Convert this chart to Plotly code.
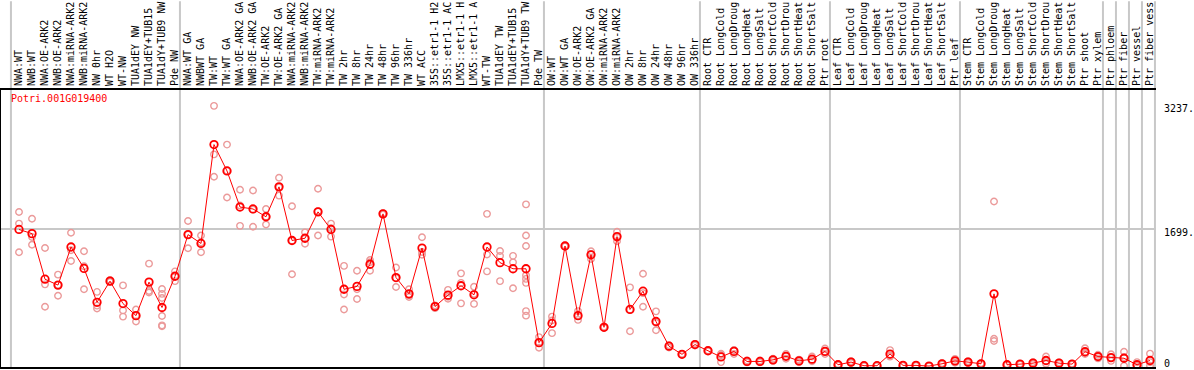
import plotly.graph_objects as go

labels = [
    "NWA:WT", "NWB:WT", "NWA:OE-ARK2", "NWB:OE-ARK2", "NWA:miRNA-ARK2", "NWB:miRNA-ARK2",
    "NW 0hr", "WT H2O", "WT-NW", "TUA1dEY NW", "TUA1dEY+TUB15", "TUA1dY+TUB9 NW", "Pde NW",
    "NWA:WT GA", "NWBWT GA", "TW:WT", "TW:WT GA", "NWA:OE-ARK2 GA", "NWB:OE-ARK2 GA",
    "TW:OE-ARK2", "TW:OE-ARK2 GA", "NWA:miRNA-ARK2", "NWB:miRNA-ARK2", "TW:miRNA-ARK2",
    "TW:miRNA-ARK2", "TW 2hr", "TW 8hr", "TW 24hr", "TW 48hr", "TW 96hr", "TW 336hr",
    "WT ACC", "35S::etr1-1 H2", "35S::etr1-1 AC", "LMX5::etr1-1 H", "LMX5::etr1-1 A",
    "WT-TW", "TUA1dEY TW", "TUA1dEY+TUB15", "TUA1dY+TUB9 TW", "Pde TW",
    "OW:WT", "OW:WT GA", "OW:OE-ARK2", "OW:OE-ARK2 GA", "OW:miRNA-ARK2", "OW:miRNA-ARK2",
    "OW 2hr", "OW 8hr", "OW 24hr", "OW 48hr", "OW 96hr", "OW 336hr",
    "Root CTR", "Root LongCold", "Root LongDroug", "Root LongHeat", "Root LongSalt",
    "Root ShortCold", "Root ShortDrou", "Root ShortHeat", "Root ShortSalt", "Ptr root",
    "Leaf CTR", "Leaf LongCold", "Leaf LongDroug", "Leaf LongHeat", "Leaf LongSalt",
    "Leaf ShortCold", "Leaf ShortDrou", "Leaf ShortHeat", "Leaf ShortSalt", "Ptr leaf",
    "Stem CTR", "Stem LongCold", "Stem LongDroug", "Stem LongHeat", "Stem LongSalt",
    "Stem ShortCold", "Stem ShortDrou", "Stem ShortHeat", "Stem ShortSalt", "Ptr shoot",
    "Ptr xylem", "Ptr phloem", "Ptr fiber", "Ptr vessel", "Ptr fiber vess",
]

means = [
    1699, 1647, 1080, 1007, 1481, 1214, 793, 1056, 777, 627,
    1044, 728, 1117, 1635, 1525, 2755, 2427, 1978, 1954, 1857,
    2229, 1562, 1590, 1918, 1699, 955, 991, 1266, 1893, 1101,
    898, 1468, 740, 882, 999, 886, 1481, 1286, 1210, 1210,
    291, 530, 1493, 627, 1384, 482, 1610, 704, 931, 554,
    247, 146, 267, 190, 113, 182, 57, 57, 77, 121,
    64, 85, 182, 16, 49, 4, 4, 149, 8, 8,
    0, 28, 64, 49, 28, 898, 16, 24, 36, 69,
    36, 24, 178, 118, 105, 97, 16, 69,
]

replicates = [
    [1917, 1772, 1416], [1833, 1606, 1509], [1468, 1016, 737], [1137, 1010, 874],
    [1659, 1440, 1307], [1428, 1242, 955], [922, 752, 716], [1070, 1050, 1048],
    [1003, 692, 615], [704, 627, 554], [1274, 934, 914], [959, 898, 846, 623, 506, 494],
    [1177, 1118, 1056], [1805, 1635, 1465], [1623, 1536, 1416], [3237, 2633, 2354],
    [2755, 2430, 2096], [2193, 1997, 1744], [2184, 1946, 1732], [1954, 1857, 1760],
    [2342, 2225, 2120], [1987, 1558, 1141], [1663, 1586, 1521], [2205, 1926, 1623],
    [1772, 1715, 1610], [1246, 890, 704], [1186, 955, 834], [1319, 1293, 1186],
    [1900, 1895, 1885], [1226, 1094, 983], [955, 881, 858], [1602, 1418, 1384],
    [755, 745, 720], [947, 862, 837], [1153, 1035, 780], [987, 898, 773],
    [1893, 1387, 1177], [1432, 1370, 1056], [1371, 1290, 967],
    [2011, 1623, 1493, 1129, 1084, 1035, 683, 627],
    [360, 287, 227], [615, 566, 409], [1500, 1490, 1489], [683, 624, 574],
    [1428, 1393, 1331], [490, 481, 475], [1671, 1606, 1553], [979, 700, 433],
    [1149, 907, 737], [680, 537, 445], [260, 251, 230], [150, 148, 140],
    [275, 271, 255], [195, 190, 185], [153, 137, 49], [200, 196, 150],
    [70, 55, 46], [68, 56, 47], [90, 77, 64], [150, 121, 90],
    [80, 64, 48], [118, 77, 60], [218, 179, 149], [22, 16, 10],
    [60, 49, 38], [8, 4, 0], [8, 4, 0], [198, 132, 117],
    [12, 8, 4], [12, 8, 4], [2, 0, 0], [36, 28, 20],
    [89, 63, 40], [60, 49, 38], [36, 28, 20], [2047, 340, 312],
    [22, 16, 10], [30, 24, 18], [48, 36, 24], [118, 61, 28],
    [44, 36, 28], [30, 24, 18], [222, 162, 150], [140, 118, 95],
    [146, 105, 64], [178, 109, 4], [49, 0, 0], [154, 49, 4],
]

group_starts = [0, 13, 41, 53, 63, 73, 84, 85, 86, 87, 88]
y_tick_labels = ["3237.", "1699.", "0"]
y_tick_values = [3237, 1699, 0]
gene = "Potri.001G019400"

xs = list(range(len(labels)))
rx, ry = [], []
for i, reps in enumerate(replicates):
    for v in reps:
        rx.append(i)
        ry.append(v)

MONO = "DejaVu Sans Mono"

fig = go.Figure()
fig.add_trace(go.Scatter(
    x=rx, y=ry, mode="markers",
    marker=dict(symbol="circle-open", size=6.5, color="#eb9a9a",
                line=dict(width=1.4, color="#eb9a9a")),
    showlegend=False, hoverinfo="y",
))
fig.add_trace(go.Scatter(
    x=xs, y=means, mode="lines+markers",
    line=dict(color="red", width=1),
    marker=dict(symbol="circle-open", size=7.5, color="red",
                line=dict(width=1.8, color="red")),
    showlegend=False, hoverinfo="y",
))

shapes = []
for b in group_starts:
    shapes.append(dict(type="line", xref="x", yref="paper",
                       x0=b - 0.62, x1=b - 0.62, y0=0, y1=1.32,
                       line=dict(color="#c8c8c8", width=2), layer="below"))

annotations = [dict(text=gene, xref="paper", yref="paper", x=0.0069, y=0.985,
                    xanchor="left", yanchor="top", showarrow=False, yshift=3,
                    font=dict(family=MONO, size=10, color="red"))]
label_shift = {3237: 5, 1699: 4, 0: -5}
for lab, v in zip(y_tick_labels, y_tick_values):
    annotations.append(dict(text=lab, xref="paper", yref="y", x=1.0055, y=v,
                            xanchor="left", yanchor="bottom" if v == 0 else "top",
                            yshift=label_shift[v], showarrow=False,
                            font=dict(family=MONO, size=10, color="black")))

fig.update_layout(
    width=1194, height=370,
    margin=dict(l=1, r=38, t=85, b=1, pad=0),
    paper_bgcolor="white", plot_bgcolor="white",
    shapes=shapes, annotations=annotations,
    xaxis=dict(side="top", range=[-1.385, 87.46], tickmode="array",
               tickvals=xs, ticktext=labels, tickangle=-90,
               tickfont=dict(family=MONO, size=10, color="black"),
               showgrid=False, zeroline=False, ticks="",
               showline=True, linecolor="black", linewidth=2, mirror=True),
    yaxis=dict(range=[-12, 3434], tickmode="array", tickvals=[1699],
               showticklabels=False, showgrid=True, gridcolor="#c8c8c8",
               gridwidth=2, zeroline=False, ticks="",
               showline=True, linecolor="black", linewidth=2),
)

fig.write_html("out.html", config={"displayModeBar": False},
               post_script="document.body.style.margin='0';document.body.style.overflow='hidden';")
